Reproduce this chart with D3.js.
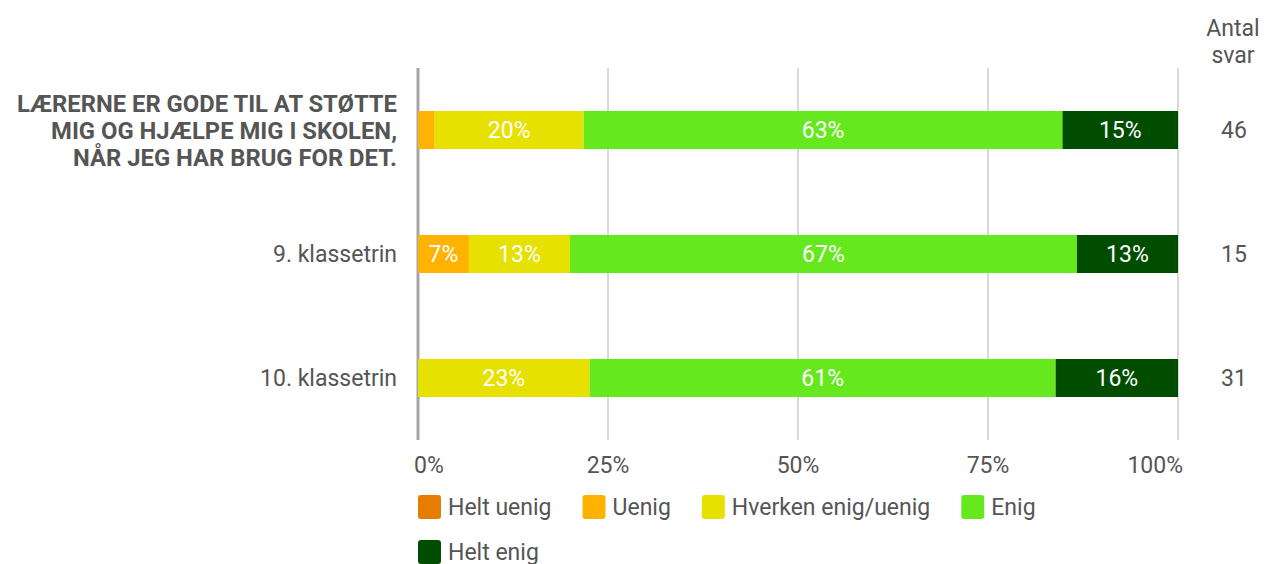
<!DOCTYPE html>
<html>
<head>
    <meta charset="utf-8">
    <title>Lærerne er gode til at støtte mig</title>
    <script src="https://d3js.org/d3.v7.min.js"></script>
    <style>
        body { margin: 0; background: #fff; }
        svg { display: block; font-family: Roboto, "Noto Sans", sans-serif; }
    </style>
</head>
<body>
    <svg width="1265" height="564"></svg>

    <script>
        // Rows of the chart (first row is the question itself, shown as a bold title)
        const rows = ["total", "9. klassetrin", "10. klassetrin"];
        const titleLines = ["LÆRERNE ER GODE TIL AT STØTTE", "MIG OG HJÆLPE MIG I SKOLEN,", "NÅR JEG HAR BRUG FOR DET."];
        const answers = ["Helt uenig", "Uenig", "Hverken enig/uenig", "Enig", "Helt enig"];
        const colors = ["#e67c00", "#ffb300", "#e6e100", "#66e81f", "#004d00"];

        // Percent per answer, one array per row (same order as answers)
        const totalPct = [0, 2.2, 19.6, 63.0, 15.2];
        const grade9Pct = [0, 6.7, 13.3, 66.7, 13.3];
        const grade10Pct = [0, 0, 22.6, 61.3, 16.1];
        const counts = [46, 15, 31];
        const ticks = [0, 25, 50, 75, 100];

        const pctRows = [totalPct, grade9Pct, grade10Pct];

        const svg = d3.select("svg");
        const textColor = "#555";
        const fontSize = 23;

        const x = d3.scaleLinear().domain([0, 100]).range([418, 1178]);
        const y = d3.scaleBand().domain(rows).range([68, 440]);
        const barH = 38;

        // gridlines
        svg.append("g").selectAll("line")
            .data(ticks)
            .join("line")
            .attr("x1", d => x(d)).attr("x2", d => x(d))
            .attr("y1", 68).attr("y2", 440)
            .attr("stroke", d => d === 0 ? "#a6a6a6" : "#b4b4b4")
            .attr("stroke-width", d => d === 0 ? 3 : 1);

        // tick labels, kept inside the plot's horizontal span
        svg.append("g").selectAll("text")
            .data(ticks)
            .join("text")
            .attr("y", 473)
            .attr("text-anchor", "middle")
            .attr("font-size", fontSize)
            .attr("fill", textColor)
            .text(d => d + "%")
            .attr("x", function (d) {
                const half = this.getComputedTextLength() / 2;
                return Math.min(Math.max(x(d), 414 + half), 1183 - half);
            });

        // stacked bars
        rows.forEach((r, i) => {
            const vals = pctRows[i];
            let acc = 0;
            const segs = vals.map((v, k) => {
                const s = { start: acc, end: acc + v, v: v, k: k };
                acc += v;
                return s;
            });
            const g = svg.append("g");
            const cy = y(r) + y.bandwidth() / 2;
            g.selectAll("rect")
                .data(segs.filter(s => s.v > 0))
                .join("rect")
                .attr("x", s => x(s.start))
                .attr("width", s => x(s.end) - x(s.start))
                .attr("y", cy - barH / 2)
                .attr("height", barH)
                .attr("fill", s => colors[s.k]);
            g.selectAll("text")
                .data(segs.filter(s => x(s.end) - x(s.start) > 40))
                .join("text")
                .attr("x", s => (x(s.start) + x(s.end)) / 2)
                .attr("y", cy + 8)
                .attr("text-anchor", "middle")
                .attr("font-size", fontSize)
                .attr("fill", "#fff")
                .text(s => Math.round(s.v) + "%");

            // count on the right
            svg.append("text")
                .attr("x", 1234)
                .attr("y", cy + 8)
                .attr("text-anchor", "middle")
                .attr("font-size", fontSize)
                .attr("fill", textColor)
                .text(counts[i]);

            // row label
            if (i === 0) {
                const t = svg.append("text")
                    .attr("text-anchor", "end")
                    .attr("font-size", 23.8)
                    .attr("font-weight", "bold")
                    .attr("fill", textColor);
                titleLines.forEach((line, j) => {
                    t.append("tspan")
                        .attr("x", 397)
                        .attr("y", cy + 9 + (j - 1) * 27)
                        .text(line);
                });
            } else {
                svg.append("text")
                    .attr("x", 397)
                    .attr("y", cy + 8)
                    .attr("text-anchor", "end")
                    .attr("font-size", fontSize)
                    .attr("fill", textColor)
                    .text(r);
            }
        });

        // "Antal svar" header
        const hdr = svg.append("text")
            .attr("text-anchor", "middle")
            .attr("font-size", fontSize)
            .attr("fill", textColor);
        ["Antal", "svar"].forEach((w, j) => {
            hdr.append("tspan").attr("x", 1233).attr("y", 36 + j * 27).text(w);
        });

        // legend, flowing left to right and wrapping
        const legend = svg.append("g");
        let lx = 418, ly = 507;
        answers.forEach((a, k) => {
            const item = legend.append("g");
            item.append("rect")
                .attr("width", 23).attr("height", 24)
                .attr("rx", 3)
                .attr("fill", colors[k]);
            const txt = item.append("text")
                .attr("x", 30)
                .attr("y", 20)
                .attr("font-size", fontSize)
                .attr("fill", textColor)
                .text(a);
            const w = 30 + txt.node().getComputedTextLength();
            if (lx + w > 1180) { lx = 418; ly += 45; }
            item.attr("transform", `translate(${lx},${ly - 12})`);
            lx += w + 31;
        });
    </script>
</body>
</html>
